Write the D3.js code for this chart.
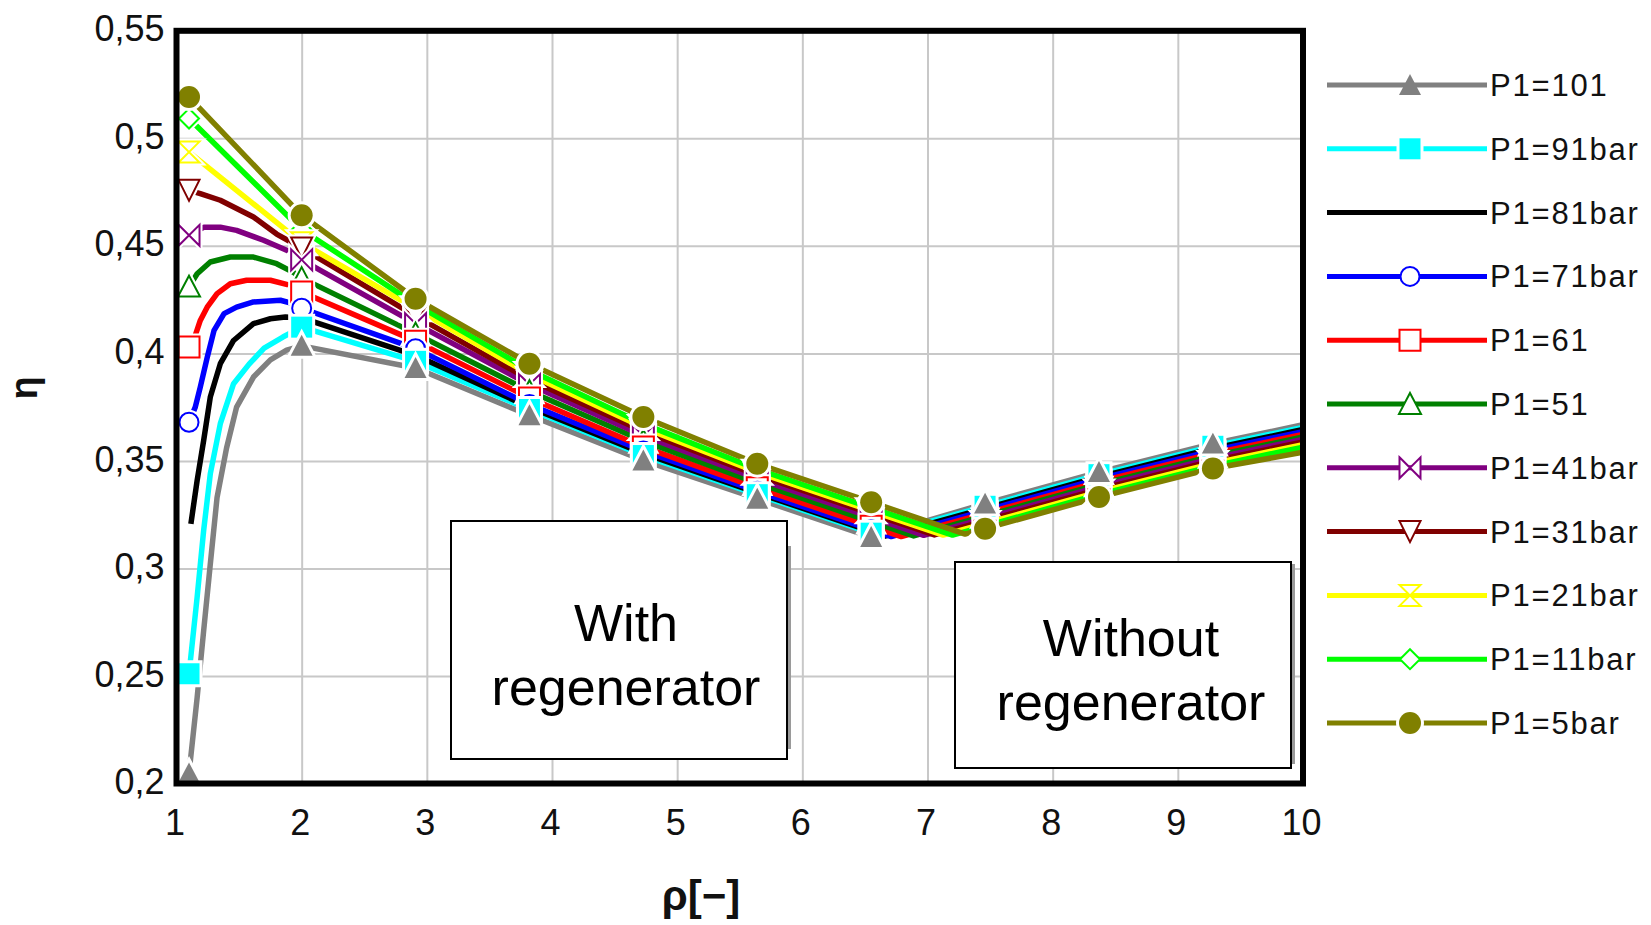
<!DOCTYPE html>
<html><head><meta charset="utf-8">
<script src="https://cdn.jsdelivr.net/npm/d3@7/dist/d3.min.js"></script>
<style>
body{margin:0;background:#fff;}
svg{display:block;font-family:"Liberation Sans",Arial,sans-serif;}
</style>
</head><body>
<svg id="chart" width="1651" height="925"></svg>
<script>
// ---------------- data ----------------
const xTicks = [1,2,3,4,5,6,7,8,9,10];
const xTickLabels = ["1","2","3","4","5","6","7","8","9","10"];
const yTicks = [0.2,0.25,0.3,0.35,0.4,0.45,0.5,0.55];
const yTickLabels = ["0,2","0,25","0,3","0,35","0,4","0,45","0,5","0,55"];
const markerX = [1.1,2.0,2.91,3.82,4.73,5.64,6.55,7.46,8.37,9.28];

const legendLabels = ["P1=101","P1=91bar","P1=81bar","P1=71bar","P1=61","P1=51","P1=41bar","P1=31bar","P1=21bar","P1=11bar","P1=5bar"];

// [ρ, η] pairs
const p101 = [[1.1,0.2047],[1.165,0.240],[1.217,0.271],[1.27,0.302],[1.324,0.333],[1.40,0.356],[1.48,0.375],[1.615,0.389],[1.75,0.397],[1.88,0.4015],[2.0,0.4035],[2.91,0.3932],[3.82,0.3712],[4.73,0.3502],[5.64,0.3324],[6.55,0.3146],[7.46,0.3301],[8.37,0.3448],[9.28,0.358],[10,0.3668]];
const p91  = [[1.1,0.251],[1.165,0.2867],[1.217,0.3177],[1.27,0.344],[1.35,0.3673],[1.456,0.3859],[1.58,0.395],[1.70,0.4025],[1.85,0.4076],[2.0,0.4122],[2.91,0.3963],[3.82,0.3739],[4.73,0.3525],[5.64,0.3343],[6.55,0.3164],[6.61,0.3152],[7.46,0.3289],[8.37,0.3436],[9.28,0.3568],[10,0.3656]];
const p81  = [[1.115,0.3207],[1.165,0.341],[1.217,0.3595],[1.27,0.3797],[1.35,0.3952],[1.456,0.406],[1.615,0.4138],[1.75,0.4161],[1.87,0.4169],[2.0,0.4165],[2.91,0.3991],[3.82,0.375],[4.73,0.3535],[5.64,0.3351],[6.55,0.3172],[6.66,0.315],[7.46,0.3279],[8.37,0.3426],[9.28,0.3558],[10,0.3646]];
const p71  = [[1.1,0.368],[1.15,0.375],[1.19,0.3843],[1.245,0.398],[1.30,0.4107],[1.38,0.4185],[1.48,0.4215],[1.615,0.4239],[1.83,0.4247],[1.93,0.4231],[2.0,0.421],[2.91,0.4022],[3.82,0.3762],[4.73,0.3546],[5.64,0.3359],[6.55,0.318],[6.71,0.3148],[7.46,0.3269],[8.37,0.3416],[9.28,0.3548],[10,0.3636]];
const p61  = [[1.1,0.403],[1.15,0.4084],[1.19,0.4153],[1.245,0.4215],[1.324,0.4278],[1.43,0.4324],[1.56,0.434],[1.75,0.434],[1.91,0.4316],[2.0,0.4285],[2.91,0.4057],[3.82,0.3793],[4.73,0.3565],[5.64,0.3375],[6.55,0.3196],[6.79,0.3148],[7.46,0.3256],[8.37,0.3403],[9.28,0.3535],[10,0.3623]];
const p51  = [[1.1,0.431],[1.165,0.437],[1.27,0.4425],[1.43,0.4448],[1.615,0.4448],[1.80,0.4417],[1.93,0.4378],[2.0,0.435],[2.91,0.4092],[3.82,0.3824],[4.73,0.3593],[5.64,0.3397],[6.55,0.3218],[6.89,0.3151],[7.46,0.3244],[8.37,0.3391],[9.28,0.3523],[10,0.3611]];
const p41  = [[1.1,0.4549],[1.22,0.4587],[1.35,0.4587],[1.48,0.4572],[1.695,0.4526],[1.88,0.448],[2.0,0.4435],[2.91,0.4138],[3.82,0.3855],[4.73,0.3617],[5.64,0.3417],[6.55,0.3238],[6.97,0.3154],[7.46,0.3233],[8.37,0.338],[9.28,0.3512],[10,0.36]];
const p31  = [[1.1,0.4758],[1.19,0.4743],[1.35,0.4712],[1.615,0.4634],[1.8,0.4555],[2.0,0.449],[2.91,0.4173],[3.82,0.3878],[4.73,0.3638],[5.64,0.3434],[6.55,0.3255],[7.055,0.3156],[7.46,0.3221],[8.37,0.3368],[9.28,0.35],[10,0.3588]];
const p21  = [[1.1,0.4936],[2.0,0.4515],[2.91,0.4207],[3.82,0.3902],[4.73,0.3655],[5.64,0.3447],[6.55,0.3268],[7.125,0.3155],[7.46,0.3209],[8.37,0.3356],[9.28,0.3488],[10,0.3576]];
const p11  = [[1.1,0.5092],[2.0,0.4575],[2.91,0.4229],[3.82,0.3922],[4.73,0.3672],[5.64,0.3461],[6.55,0.3282],[7.2,0.3155],[7.46,0.3197],[8.37,0.3344],[9.28,0.3476],[10,0.3564]];
const p5   = [[1.1,0.5192],[2.0,0.4642],[2.91,0.4254],[3.82,0.3952],[4.73,0.3704],[5.64,0.3487],[6.55,0.3308],[7.3,0.316],[7.46,0.3185],[8.37,0.3332],[9.28,0.3465],[10,0.354]];

const seriesData = [p101,p91,p81,p71,p61,p51,p41,p31,p21,p11,p5];

// ---------------- styles ----------------
const seriesColors = ["#808080","#00ffff","#000000","#0000ff","#ff0000","#008000","#800080","#800000","#ffff00","#00ff00","#808000"];
const seriesMarkers = ["triUp","square",null,"circle","square","triUp","bowtie","triDown","hourglass","diamond","circle"];
const markerFilled  = [true,true,false,false,false,false,false,false,false,false,true];
const markerHalf    = [11,10.5,0,9.5,10.5,11,10.5,10.5,10.5,10,11];
const markerOrder   = [9,8,7,6,5,4,3,1,0,10];

// ---------------- layout ----------------
const svg = d3.select("#chart");
const X0 = 176.5, X1 = 1303, Y0 = 783.5, Y1 = 30.8;
const x = d3.scaleLinear().domain([1,10]).range([X0,X1]);
const y = d3.scaleLinear().domain([0.2,0.55]).range([Y0,Y1]);

svg.append("rect").attr("width",1651).attr("height",925).attr("fill","#fff");

// grid + tick labels via axes
const gx = svg.append("g").attr("transform",`translate(0,${Y0})`)
  .call(d3.axisBottom(x).tickValues(xTicks).tickFormat((d,i)=>xTickLabels[i])
        .tickSize(-(Y0-Y1)).tickPadding(26));
gx.select(".domain").remove();
gx.selectAll(".tick line").attr("stroke","#c8c8c8").attr("stroke-width",2);
gx.selectAll(".tick text").attr("font-size",36).attr("fill","#111").attr("dx",-2)
  .attr("font-family","'Liberation Sans',Arial,sans-serif");

const gy = svg.append("g").attr("transform",`translate(${X0},0)`)
  .call(d3.axisLeft(y).tickValues(yTicks).tickFormat((d,i)=>yTickLabels[i])
        .tickSize(-(X1-X0)).tickPadding(12));
gy.select(".domain").remove();
gy.selectAll(".tick line").attr("stroke","#c8c8c8").attr("stroke-width",2);
gy.selectAll(".tick text").attr("font-size",36).attr("fill","#111").attr("dy","0.28em")
  .attr("font-family","'Liberation Sans',Arial,sans-serif");

// clip
svg.append("clipPath").attr("id","plotclip").append("rect")
  .attr("x",X0).attr("y",Y1).attr("width",X1-X0).attr("height",Y0-Y1+8);

const plot = svg.append("g").attr("clip-path","url(#plotclip)");
const line = d3.line().x(d=>x(d[0])).y(d=>y(d[1])).curve(d3.curveLinear);

seriesData.forEach((s,i)=>{
  plot.append("path").attr("d",line(s)).attr("fill","none")
    .attr("stroke",seriesColors[i]).attr("stroke-width",5.5)
    .attr("stroke-linejoin","round");
});

function markerPath(type,h){
  switch(type){
    case "triUp": return `M0,${-h}L${h},${h*0.9}L${-h},${h*0.9}Z`;
    case "triDown": return `M${-h},${-h}L${h},${-h}L0,${h}Z`;
    case "square": return `M${-h},${-h}H${h}V${h}H${-h}Z`;
    case "circle": return `M${h},0A${h},${h} 0 1,1 ${-h},0A${h},${h} 0 1,1 ${h},0Z`;
    case "diamond": return `M0,${-h}L${h},0L0,${h}L${-h},0Z`;
    case "bowtie": return `M${-h},${-h}L${h},${h}L${h},${-h}L${-h},${h}Z`;
    case "hourglass": return `M${-h},${-h}L${h},${-h}L${-h},${h}L${h},${h}Z`;
  }
  return "";
}
function drawMarker(g,i,cx,cy,halo){
  const p = markerPath(seriesMarkers[i],markerHalf[i]);
  const t = `translate(${cx},${cy})`;
  if(halo){
    g.append("path").attr("d",p).attr("transform",t)
      .attr("fill","#fff").attr("stroke","#fff").attr("stroke-width",6);
  }
  if(markerFilled[i]){
    g.append("path").attr("d",p).attr("transform",t).attr("fill",seriesColors[i]);
  } else {
    g.append("path").attr("d",p).attr("transform",t).attr("fill","#fff")
      .attr("stroke",seriesColors[i]).attr("stroke-width",2);
  }
}

const mg = plot.append("g");
markerOrder.forEach(i=>{
  seriesData[i].filter(d=>markerX.includes(d[0])).forEach(d=>{
    drawMarker(mg,i,x(d[0]),y(d[1]),true);
  });
});

// frame
svg.append("rect").attr("x",X0).attr("y",Y1).attr("width",X1-X0).attr("height",Y0-Y1)
  .attr("fill","none").attr("stroke","#000").attr("stroke-width",6);

// text boxes
function textBox(bx,by,bw,bh,lines,tx,ty,shY0,shY1){
  svg.append("rect").attr("x",bx+bw+1).attr("y",shY0).attr("width",3).attr("height",shY1-shY0)
    .attr("fill","#9a9a9a");
  svg.append("rect").attr("x",bx).attr("y",by).attr("width",bw).attr("height",bh)
    .attr("fill","#fff").attr("stroke","#000").attr("stroke-width",2);
  lines.forEach((t,k)=>{
    svg.append("text").attr("x",tx).attr("y",ty[k]).attr("text-anchor","middle")
      .attr("font-size",52).attr("fill","#000").text(t);
  });
}
textBox(451,521,336,238,["With","regenerator"],626,[641,705],546,749);
textBox(955,562,336,206,["Without","regenerator"],1131,[656,720],564,764);

// axis titles
svg.append("text").attr("x",701).attr("y",910).attr("text-anchor","middle")
  .attr("font-size",42).attr("font-weight","bold").attr("fill","#111").text("ρ[−]");
svg.append("text").attr("transform","translate(37,388) rotate(-90)").attr("text-anchor","middle")
  .attr("font-size",38).attr("font-weight","bold").attr("fill","#111").text("η");

// legend
const ly = d3.scaleLinear().domain([0,10]).range([85,723]);
const lg = svg.append("g");
legendLabels.forEach((lab,i)=>{
  const yy = ly(i);
  lg.append("line").attr("x1",1327).attr("x2",1487).attr("y1",yy).attr("y2",yy)
    .attr("stroke",seriesColors[i]).attr("stroke-width",5);
  if(seriesMarkers[i]) drawMarker(lg,i,1410,yy,(i===1||i===10));
  lg.append("text").attr("x",1490).attr("y",yy+11).attr("font-size",31)
    .attr("letter-spacing",1.8).attr("fill","#111").text(lab);
});
</script>
</body></html>
